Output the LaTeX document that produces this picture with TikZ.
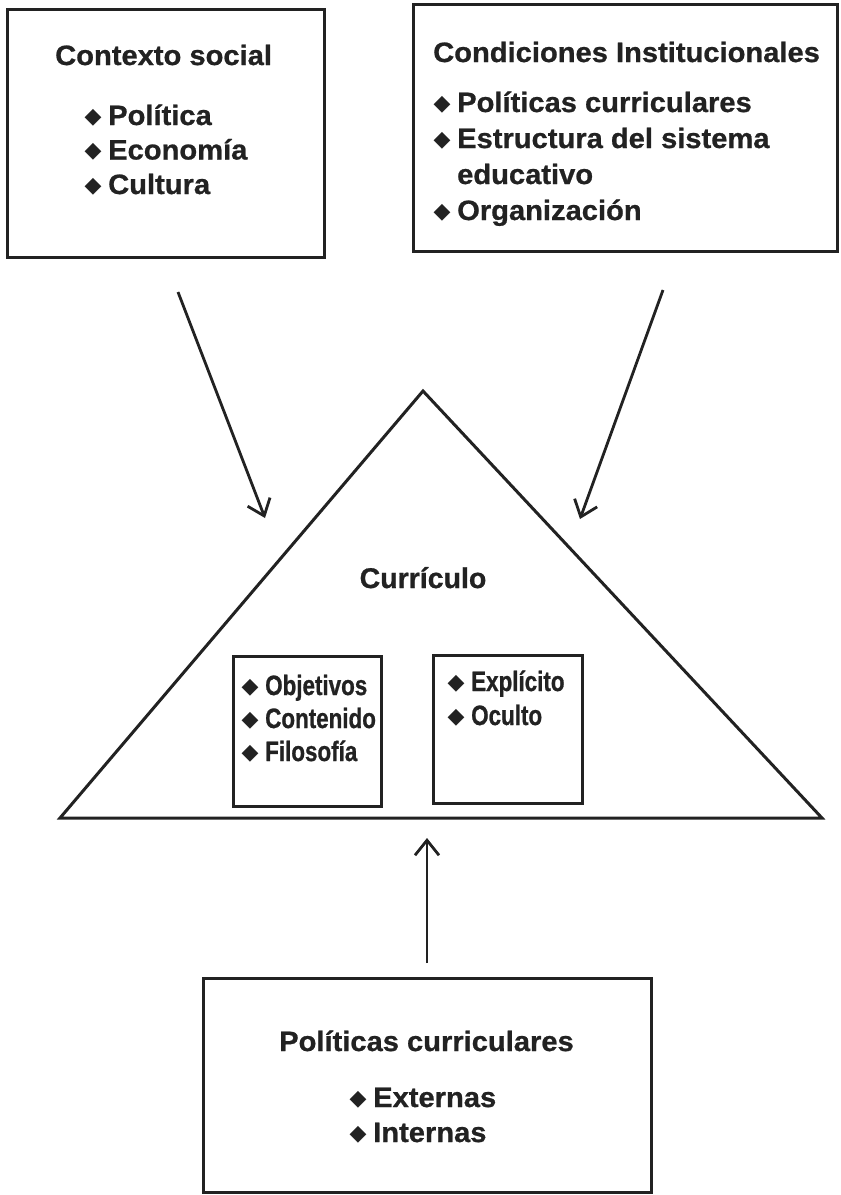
\documentclass[tikz,border=0pt]{standalone}
\usepackage{fontspec}
\setmainfont{Liberation Sans}
\newfontfamily\outfnt[FakeStretch=1.04,FakeBold=0.8]{Liberation Sans}
\newfontfamily\innfnt[FakeStretch=0.8,FakeBold=0.8]{Liberation Sans}
\newfontfamily\curfnt[FakeStretch=1.0,FakeBold=0.8]{Liberation Sans}
\newfontfamily\symfnt{DejaVu Sans}
\usetikzlibrary{arrows.meta}
\definecolor{ink}{HTML}{222222}
\newcommand{\dmd}{\makebox[22pt][l]{\hspace{-1.5pt}\raisebox{2pt}{\symfnt\fontsize{22}{22}\selectfont ◆}}}
\tikzset{
  box/.style={draw=ink, line width=3pt, rectangle, inner sep=0pt},
  outt/.style={anchor=base west, inner sep=0pt, text=ink, font=\outfnt\bfseries\fontsize{28}{30}\selectfont},
  innt/.style={anchor=base west, inner sep=0pt, text=ink, font=\innfnt\bfseries\fontsize{28}{30}\selectfont},
  curt/.style={anchor=base, inner sep=0pt, text=ink, font=\curfnt\bfseries\fontsize{28.5}{30}\selectfont},
  edge/.style={draw=ink, line width=3pt, line join=miter},
  arr/.style={draw=ink, line width=2.8pt, -{Straight Barb[length=15pt,width=24pt,line width=2.8pt]}}
}
\begin{document}
\begin{tikzpicture}[x=1pt,y=-1pt]
\useasboundingbox (0,0) rectangle (841,1195);
\fill[white] (0,0) rectangle (841,1195);
% top-left box
\node[box, minimum width=317pt, minimum height=248pt] (ctx) at (165.5,133) {};
\node[outt] (ctxT) at (55,65) {Contexto social};
\node[outt] (ctx1) at (86,125) {\dmd Política};
\node[outt] (ctx2) at (86,159.5) {\dmd Economía};
\node[outt] (ctx3) at (86,194) {\dmd Cultura};
% top-right box
\node[box, minimum width=424pt, minimum height=247pt] (ins) at (625,127.5) {};
\node[outt] (insT) at (433,62) {Condiciones Institucionales};
\node[outt] (ins1) at (435,112) {\dmd Políticas curriculares};
\node[outt] (ins2) at (435,148) {\dmd Estructura del sistema};
\node[outt] (ins2b) at (457,184) {educativo};
\node[outt] (ins3) at (435,220) {\dmd Organización};
% triangle
\coordinate (tA) at (423,391);
\coordinate (tL) at (60,818);
\coordinate (tR) at (822,818);
\draw[edge] (tA) -- (tL) -- (tR) -- cycle;
\node[curt] (cur) at (423,588) {Currículo};
\node[box, minimum width=148pt, minimum height=150pt] (inL) at (307,731) {};
\node[innt] (inL1) at (243,695) {\dmd Objetivos};
\node[innt] (inL2) at (243,728) {\dmd Contenido};
\node[innt] (inL3) at (243,761) {\dmd Filosofía};
\node[box, minimum width=149pt, minimum height=148pt] (inR) at (507.5,729) {};
\node[innt] (inR1) at (449,691) {\dmd Explícito};
\node[innt] (inR2) at (449,725) {\dmd Oculto};
% bottom box
\node[box, minimum width=448pt, minimum height=214pt] (pol) at (427,1085) {};
\node[outt] (polT) at (279,1051) {Políticas curriculares};
\node[outt] (pol1) at (351,1107) {\dmd Externas};
\node[outt] (pol2) at (351,1142) {\dmd Internas};
% arrows
\coordinate (a1s) at (178,292);
\coordinate (a1e) at (265,518);
\coordinate (a2s) at (663,290);
\coordinate (a2e) at (580,519);
\coordinate (a3s) at (427,963);
\coordinate (a3e) at (427,838);
\draw[arr] (a1s) -- (a1e);
\draw[arr] (a2s) -- (a2e);
\draw[arr] (a3s) -- (a3e);
\end{tikzpicture}
\end{document}
